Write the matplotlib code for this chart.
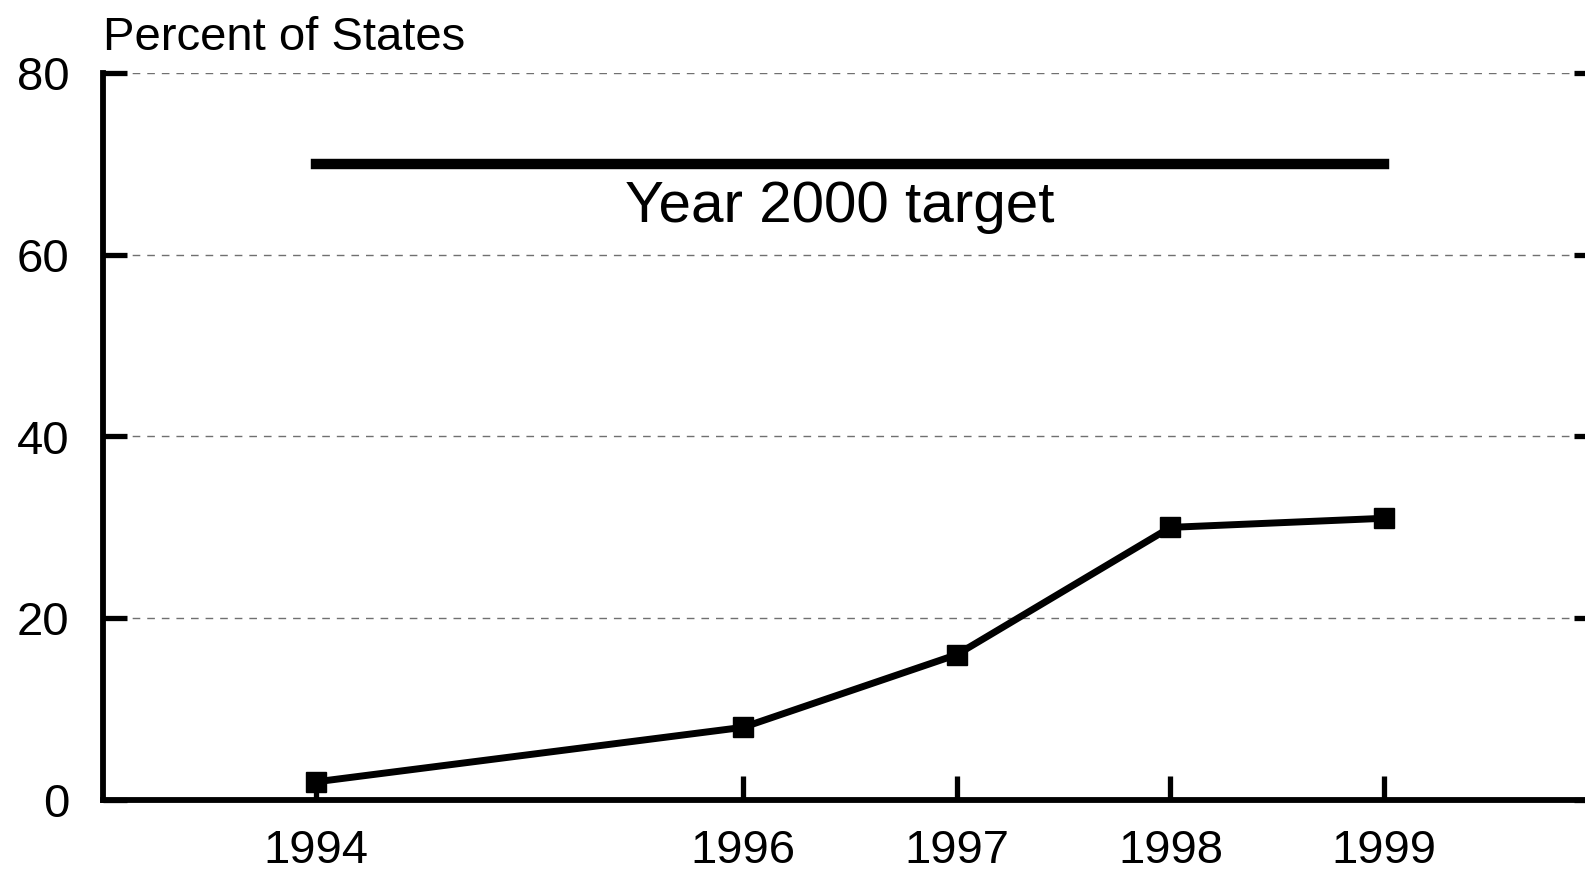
import matplotlib
matplotlib.use("Agg")
import matplotlib.pyplot as plt

years = [1994, 1996, 1997, 1998, 1999]
percent_states = [2, 8, 16, 30, 31]
target_value = 70
target_span = [1994, 1999]
target_label = "Year 2000 target"
y_label = "Percent of States"
y_ticks = [0, 20, 40, 60, 80]

plt.rcParams['font.family'] = ['Liberation Sans', 'DejaVu Sans']

fig = plt.figure(figsize=(15.85, 8.71), dpi=100)
ax = fig.add_axes([102.5/1585, 1-800/871, (1597.6-102.5)/1585, (800-73)/871])
ax.set_xlim(1993, 2000)
ax.set_ylim(0, 80)

for y in y_ticks[1:]:
    ax.axhline(y, color='#707070', lw=1.0, ls=(0, (5.5, 5)), zorder=1)

ax.plot(target_span, [target_value, target_value], color='black', lw=7.5,
        solid_capstyle='projecting', zorder=3)
ax.text(1996.45, 65.2, target_label, ha='center', va='center',
        fontsize=42, color='black')

ax.plot(years, percent_states, color='black', lw=5, marker='s', ms=15,
        zorder=4, clip_on=False)

ax.set_xticks(years)
ax.set_xticklabels([str(y) for y in years])
ax.set_yticks(y_ticks)
ax.tick_params(axis='both', direction='in', length=17, width=3.8, labelsize=34,
               colors='black')
ax.tick_params(axis='x', pad=21)
ax.tick_params(axis='y', pad=24, right=True)

for s in ['top', 'right']:
    ax.spines[s].set_visible(False)
for s in ['left', 'bottom']:
    ax.spines[s].set_linewidth(4.2)
    ax.spines[s].set_capstyle('projecting')

fig.text(103/1585, 1-50.5/871, y_label, fontsize=34, ha='left', va='baseline')

fig.savefig('out.png', dpi=100)
